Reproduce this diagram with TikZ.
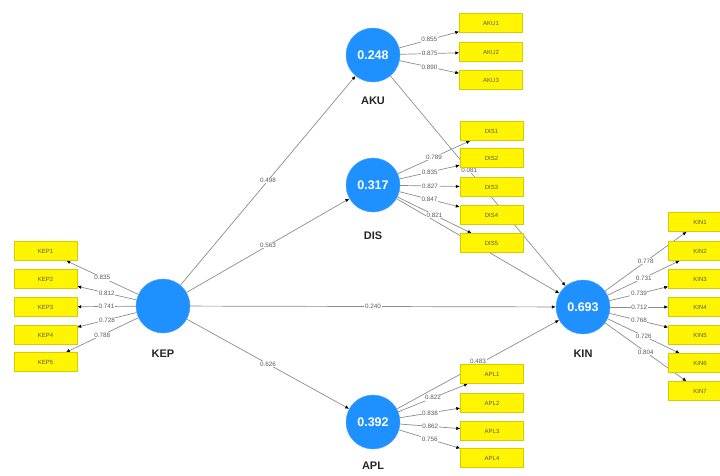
\documentclass[tikz,border=0pt]{standalone}
\usepackage{fontspec}
\setmainfont{Liberation Sans}
\usepackage{tikz}
\usetikzlibrary{arrows.meta}
\usetikzlibrary{positioning}
\usetikzlibrary{backgrounds}
\definecolor{lvblue}{RGB}{30,144,255}
\definecolor{indyellow}{RGB}{255,245,0}
\definecolor{indedge}{RGB}{214,204,0}
\tikzset{
  lv/.style = {circle, fill=lvblue, draw=lvblue!85!white, minimum size=54pt,
    inner sep=0pt, text=white, font=\fontsize{12.5}{13}\selectfont\bfseries},% variable latente
  lv_name/.style = {font=\fontsize{11}{12}\selectfont\bfseries, text=black!85},
  ind/.style = {rectangle, fill=indyellow, draw=indedge, line width=0.4pt,
    minimum width=63pt, minimum height=19pt, inner sep=0pt,
    font=\fontsize{6}{6}\selectfont, text=black!65},% indicateur
  ld/.style = {fill=white, inner sep=0.7pt, font=\fontsize{6.3}{6.3}\selectfont,
    text=black!65},% loading, coefficient
  conn/.style = {draw=black!45, line width=0.7pt,
    -{Latex[black,length=4pt,width=3.5pt]}}
}

\begin{document}
\begin{tikzpicture}[x=1pt,y=-1pt]
\useasboundingbox (0,0) rectangle (720,475);
\clip (0,0) rectangle (720,475);

% variables latentes
\node [lv] (kep) at (163,306) {};
\node [lv] (aku) at (373,55) {0.248};
\node [lv] (dis) at (373,185) {0.317};
\node [lv] (apl) at (373,422) {0.392};
\node [lv] (kin) at (583,307) {0.693};
\node at (kep) [lv_name, yshift=-48pt] {KEP};
\node at (aku) [lv_name, yshift=-46pt] {AKU};
\node at (dis) [lv_name, yshift=-51pt] {DIS};
\node at (apl) [lv_name, yshift=-44pt] {APL};
\node at (kin) [lv_name, yshift=-47pt] {KIN};

% indicateurs
\node [ind] (kep1) at (45.5,251) {KEP1};
\node [ind] (kep2) at (45.5,279) {KEP2};
\node [ind] (kep3) at (45.5,307) {KEP3};
\node [ind] (kep4) at (45.5,335) {KEP4};
\node [ind] (kep5) at (45.5,362) {KEP5};

\node [ind] (aku1) at (491,23) {AKU1};
\node [ind] (aku2) at (491,52) {AKU2};
\node [ind] (aku3) at (491,80) {AKU3};

\node [ind] (dis1) at (491.5,131) {DIS1};
\node [ind] (dis2) at (491.5,158) {DIS2};
\node [ind] (dis3) at (491.5,187) {DIS3};
\node [ind] (dis4) at (491.5,215) {DIS4};
\node [ind] (dis5) at (491.5,243) {DIS5};

\node [ind] (apl1) at (492,374) {APL1};
\node [ind] (apl2) at (492,403) {APL2};
\node [ind] (apl3) at (492,431) {APL3};
\node [ind] (apl4) at (492,458) {APL4};

\node [ind] (kin1) at (700,222) {KIN1};
\node [ind] (kin2) at (700,251) {KIN2};
\node [ind] (kin3) at (700,279) {KIN3};
\node [ind] (kin4) at (700,307) {KIN4};
\node [ind] (kin5) at (700,335) {KIN5};
\node [ind] (kin6) at (700,363) {KIN6};
\node [ind] (kin7) at (700,391) {KIN7};

\begin{pgfonlayer}{background}
% modele structurel
\draw [conn] (kep) -- node [ld] {0.498} (aku);
\draw [conn] (kep) -- node [ld] {0.563} (dis);
\draw [conn] (kep) -- node [ld] {0.240} (kin);
\draw [conn] (kep) -- node [ld] {0.626} (apl);
\draw [conn] (aku) -- node [ld, pos=0.45] {0.081} (kin);
\draw [conn] (dis) -- (kin);
\draw [conn] (apl) -- node [ld, pos=0.5, yshift=3.5pt] {0.483} (kin);

% modele de mesure
\draw [conn] (kep) -- node [ld] {0.835} (kep1);
\draw [conn] (kep) -- node [ld] {0.812} (kep2);
\draw [conn] (kep) -- node [ld] {0.741} (kep3);
\draw [conn] (kep) -- node [ld] {0.728} (kep4);
\draw [conn] (kep) -- node [ld] {0.788} (kep5);

\draw [conn] (aku) -- node [ld] {0.855} (aku1);
\draw [conn] (aku) -- node [ld] {0.875} (aku2);
\draw [conn] (aku) -- node [ld] {0.890} (aku3);

\draw [conn] (dis) -- node [ld] {0.789} (dis1);
\draw [conn] (dis) -- node [ld] {0.835} (dis2);
\draw [conn] (dis) -- node [ld] {0.827} (dis3);
\draw [conn] (dis) -- node [ld] {0.847} (dis4);
\draw [conn] (dis) -- node [ld] {0.821} (dis5);

\draw [conn] (apl) -- node [ld] {0.822} (apl1);
\draw [conn] (apl) -- node [ld] {0.838} (apl2);
\draw [conn] (apl) -- node [ld] {0.862} (apl3);
\draw [conn] (apl) -- node [ld] {0.756} (apl4);

\draw [conn] (kin) -- node [ld] {0.778} (kin1);
\draw [conn] (kin) -- node [ld] {0.731} (kin2);
\draw [conn] (kin) -- node [ld] {0.739} (kin3);
\draw [conn] (kin) -- node [ld] {0.712} (kin4);
\draw [conn] (kin) -- node [ld] {0.768} (kin5);
\draw [conn] (kin) -- node [ld] {0.726} (kin6);
\draw [conn] (kin) -- node [ld] {0.804} (kin7);
\end{pgfonlayer}
\end{tikzpicture}
\end{document}
